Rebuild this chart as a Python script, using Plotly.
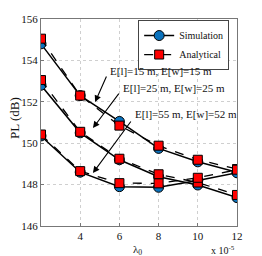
import plotly.graph_objects as go

lam = [2, 4, 6, 8, 10, 12]
sim_15 = [154.8, 152.3, 151.05, 149.75, 149.1, 148.6]
ana_15 = [155.05, 152.3, 150.85, 149.88, 149.2, 148.75]
sim_25 = [152.8, 150.5, 149.2, 148.38, 147.98, 147.37]
ana_25 = [153.05, 150.55, 149.25, 148.5, 148.1, 147.5]
sim_55 = [150.35, 148.6, 147.9, 147.87, 148.2, 148.57]
ana_55 = [150.42, 148.65, 148.07, 148.06, 148.33, 148.72]
labels = ["E[l]=15 m, E[w]=15 m", "E[l]=25 m, E[w]=25 m", "E[l]=55 m, E[w]=52 m"]

FONT = "Liberation Serif"
BLUE = "#0a72bd"
RED = "#ff0000"

fig = go.Figure()
sims = [sim_15, sim_25, sim_55]
anas = [ana_15, ana_25, ana_55]
for i in range(3):
    fig.add_trace(go.Scatter(
        x=lam, y=sims[i], mode="lines+markers", name="Simulation",
        showlegend=(i == 0), legendgroup="sim",
        line=dict(color="black", width=1.5),
        marker=dict(symbol="circle", size=10, color=BLUE, line=dict(color="black", width=1))))
for i in range(3):
    fig.add_trace(go.Scatter(
        x=lam, y=anas[i], mode="lines+markers", name="Analytical",
        showlegend=(i == 0), legendgroup="ana",
        line=dict(color="black", width=1.3, dash="dash"),
        marker=dict(symbol="square", size=9, color=RED, line=dict(color="black", width=1))))

# arrows (tip in data coords, tail offset in px)
arrows = [(4.76, 151.99, 12, -27), (4.65, 150.73, 27, -36), (4.65, 148.56, 39, -53)]
for (x, y, ax, ay) in arrows:
    fig.add_annotation(x=x, y=y, ax=ax, ay=ay, xref="x", yref="y", text="",
                       showarrow=True, arrowhead=2, arrowsize=1.2, arrowwidth=1.1,
                       arrowcolor="black")
text_pos = [(5.42, 153.49), (6.08, 152.67), (6.69, 151.41)]
for (x, y), t in zip(text_pos, labels):
    fig.add_annotation(x=x, y=y, xref="x", yref="y", text=t, showarrow=False,
                       xanchor="left", yanchor="middle",
                       font=dict(family=FONT, size=11, color="#111"))

# axis titles as annotations (paper coords relative to plot area)
fig.add_annotation(x=0.49, y=-0.117, xref="paper", yref="paper", text="λ<sub>0</sub>",
                   showarrow=False, xanchor="center", yanchor="middle",
                   font=dict(family=FONT, size=11, color="#111"))
fig.add_annotation(x=0.93, y=-0.118, xref="paper", yref="paper", text="x 10<sup>-5</sup>",
                   showarrow=False, xanchor="center", yanchor="middle",
                   font=dict(family=FONT, size=10, color="#111"))
fig.add_annotation(x=-0.135, y=0.52, xref="paper", yref="paper", text="PL (dB)",
                   showarrow=False, xanchor="center", yanchor="middle", textangle=-90,
                   font=dict(family=FONT, size=13, color="#111"))

# page body has an 8px margin: size figure so the plot area lands where the reference has it
fig.update_layout(
    width=254, height=248,
    margin=dict(l=33, r=25, t=11, b=30),
    paper_bgcolor="white", plot_bgcolor="white",
    font=dict(family=FONT, size=11, color="#111"),
    showlegend=True,
    legend=dict(x=0.96, y=0.995, xanchor="right", yanchor="top",
                bgcolor="white", bordercolor="#444", borderwidth=1,
                font=dict(family=FONT, size=10, color="#111"),
                itemwidth=30, tracegroupgap=0),
    xaxis=dict(range=[2, 12], tickvals=[4, 6, 8, 10, 12], showgrid=True,
               gridcolor="#cfcfcf", griddash="dot", gridwidth=1,
               showline=True, linecolor="#777", mirror=True, linewidth=1,
               ticks="inside", ticklen=3, tickcolor="#777", zeroline=False,
               automargin=False,
               tickfont=dict(family=FONT, size=11, color="#111")),
    yaxis=dict(range=[146, 156], tickvals=[146, 148, 150, 152, 154, 156], showgrid=True,
               gridcolor="#cfcfcf", griddash="dot", gridwidth=1,
               showline=True, linecolor="#777", mirror=True, linewidth=1,
               ticks="inside", ticklen=3, tickcolor="#777", zeroline=False,
               automargin=False,
               tickfont=dict(family=FONT, size=11, color="#111")),
)
fig.write_html("out.html")
